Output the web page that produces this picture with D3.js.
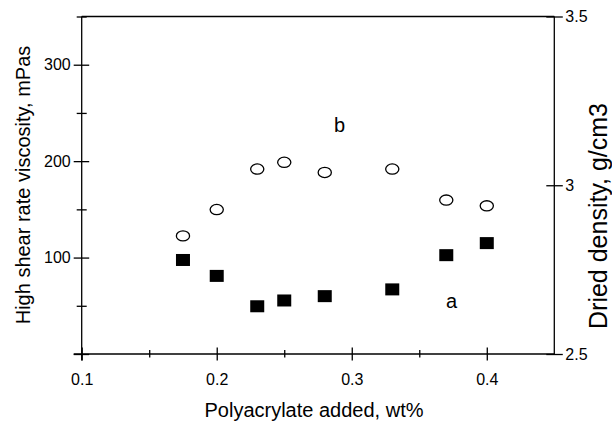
<!DOCTYPE html>
<html>
<head>
<meta charset="utf-8">
<script src="https://cdn.jsdelivr.net/npm/d3@7"></script>
<style>
  html, body { margin: 0; padding: 0; background: #fff; }
  svg { display: block; }
  text { font-family: "Liberation Sans", Arial, sans-serif; fill: #000; }
</style>
</head>
<body>
<script>
// Data
const wt = [0.175, 0.2, 0.23, 0.25, 0.28, 0.33, 0.37, 0.40];
const viscosity = [97.5, 81, 49.5, 55.5, 60, 67, 102.5, 115];       // series a (squares, left axis)
const density = [2.85, 2.928, 3.048, 3.068, 3.038, 3.048, 2.956, 2.939]; // series b (circles, right axis)
const xTicks = [0.1, 0.15, 0.2, 0.25, 0.3, 0.35, 0.4];
const xLabels = [0.1, 0.2, 0.3, 0.4];
const yLeftTicks = [0, 50, 100, 150, 200, 250, 300, 350];
const yLeftLabels = [100, 200, 300];
const yRightTicks = [2.5, 3, 3.5];
const xTitle = "Polyacrylate added, wt%";
const yLeftTitle = "High shear rate viscosity, mPas";
const yRightTitle = "Dried density, g/cm3";
const annotations = [
  { text: "a", x: 0.374, yl: 48 },
  { text: "b", x: 0.291, yl: 230 }
];

const W = 612, H = 421;
const L = 81.7, R = 554.3, T = 16.5, B = 354;

const svg = d3.select("body").append("svg").attr("width", W).attr("height", H);
svg.append("rect").attr("width", W).attr("height", H).attr("fill", "#fff");

const x = d3.scaleLinear().domain([0.1, 0.45]).range([L, R]);
const yl = d3.scaleLinear().domain([0, 350]).range([B, T]);
const yr = d3.scaleLinear().domain([2.5, 3.5]).range([B, T]);

const sw = 1.3;

// Bottom axis
const gx = svg.append("g").attr("transform", `translate(0,${B})`)
  .call(d3.axisBottom(x).tickValues(xTicks).tickSizeOuter(0)
    .tickFormat(d => xLabels.some(v => Math.abs(v - d) < 1e-9) ? d3.format(".1f")(d) : ""));
gx.select(".domain").attr("d", `M${L - 8},0H${R}`).attr("stroke", "#000").attr("stroke-width", sw);
gx.selectAll(".tick line").each(function(d) {
  const major = xLabels.some(v => Math.abs(v - d) < 1e-9);
  d3.select(this).attr("y1", major ? -6.5 : -4).attr("y2", major ? 6.5 : 3.5)
    .attr("stroke", "#000").attr("stroke-width", sw);
});
gx.selectAll(".tick text").attr("y", 31).attr("dy", 0).attr("font-size", 16)
  .attr("font-family", "Liberation Sans, Arial, sans-serif");

// Left axis
const gl = svg.append("g").attr("transform", `translate(${L},0)`)
  .call(d3.axisLeft(yl).tickValues(yLeftTicks).tickSizeOuter(0)
    .tickFormat(d => yLeftLabels.includes(d) ? d : ""));
gl.select(".domain").attr("d", `M0,${T}V${B + 6.5}`).attr("stroke", "#000").attr("stroke-width", sw);
gl.selectAll(".tick line").each(function(d) {
  const major = d % 100 === 0;
  d3.select(this).attr("x1", major ? -8 : -5).attr("x2", major ? 7.5 : 5)
    .attr("stroke", "#000").attr("stroke-width", sw);
});
gl.selectAll(".tick text").attr("x", -11).attr("font-size", 16)
  .attr("font-family", "Liberation Sans, Arial, sans-serif");

// Right axis
const gr = svg.append("g").attr("transform", `translate(${R},0)`)
  .call(d3.axisRight(yr).tickValues(yRightTicks).tickSizeOuter(0)
    .tickFormat(d => d3.format("")(d)));
gr.select(".domain").attr("d", `M0,${T}V${B}`).attr("stroke", "#000").attr("stroke-width", sw);
gr.selectAll(".tick line").attr("x1", -8).attr("x2", 8.5).attr("stroke", "#000").attr("stroke-width", sw);
gr.selectAll(".tick text").attr("x", 11).attr("font-size", 16)
  .attr("font-family", "Liberation Sans, Arial, sans-serif");

// Top border
svg.append("line").attr("x1", L).attr("x2", R).attr("y1", T).attr("y2", T)
  .attr("stroke", "#000").attr("stroke-width", sw);

// Series b: open ellipses (right axis)
svg.append("g").selectAll("ellipse").data(wt).join("ellipse")
  .attr("cx", d => x(d)).attr("cy", (d, i) => yr(density[i]))
  .attr("rx", 6.6).attr("ry", 5.1)
  .attr("fill", "#fff").attr("stroke", "#000").attr("stroke-width", 1.3);

// Series a: filled squares (left axis)
const sqW = 14, sqH = 12;
svg.append("g").selectAll("rect").data(wt).join("rect")
  .attr("x", d => x(d) - sqW / 2).attr("y", (d, i) => yl(viscosity[i]) - sqH / 2)
  .attr("width", sqW).attr("height", sqH).attr("fill", "#000");

// Annotations
svg.append("g").selectAll("text").data(annotations).join("text")
  .attr("x", d => x(d.x)).attr("y", d => yl(d.yl))
  .attr("text-anchor", "middle").attr("font-size", 20).text(d => d.text);

// Titles
svg.append("text").attr("x", (L + R) / 2 - 4).attr("y", 416.5)
  .attr("text-anchor", "middle").attr("font-size", 20).text(xTitle);
svg.append("text").attr("transform", `translate(29.5,185) rotate(-90)`)
  .attr("text-anchor", "middle").attr("font-size", 20).text(yLeftTitle);
svg.append("text").attr("transform", `translate(606.5,216) rotate(-90)`)
  .attr("text-anchor", "middle").attr("font-size", 25).text(yRightTitle);
</script>
</body>
</html>
